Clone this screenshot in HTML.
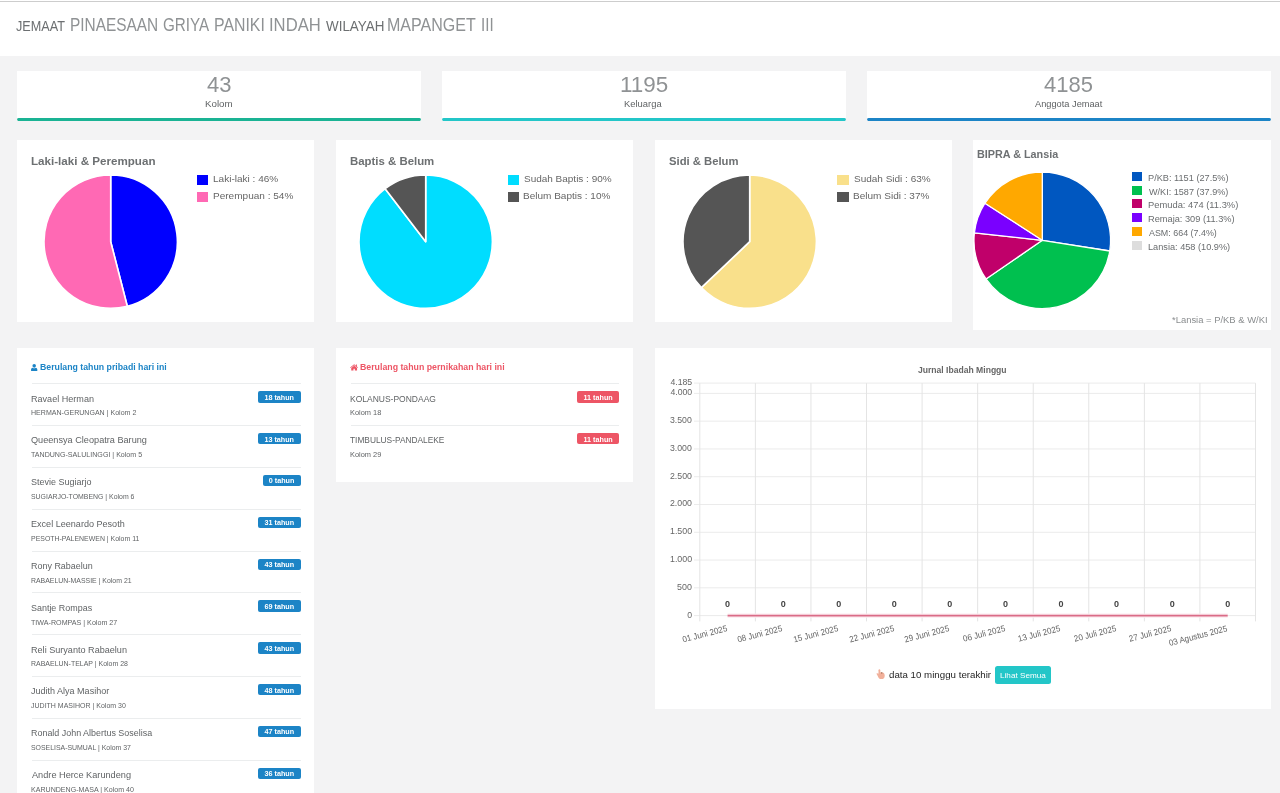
<!DOCTYPE html>
<html lang="id"><head><meta charset="utf-8"><title>Dashboard Jemaat</title>
<meta name="viewport" content="width=1280">
<style>
*{margin:0;padding:0;box-sizing:border-box}
html,body{width:1280px;height:793px;overflow:hidden;background:#f3f3f4}
body{font-family:"Liberation Sans",sans-serif;color:#606365;position:relative;filter:opacity(1)}
.abs,.t,.card,.stat,.badge,.btn,li{position:absolute}
.t{white-space:nowrap;line-height:1;transform-origin:0 0;font-weight:normal;font-style:normal;display:block}
.head{position:absolute;left:0;top:0;width:1280px;height:56px;background:#fff}
.head:before{content:"";position:absolute;left:0;top:1px;width:100%;height:1px;background:#cdcdcd}
.card,.stat{background:#fff;overflow:hidden}
.stat{border-radius:0 0 3px 3px;background:linear-gradient(#fff 0,#fff 47px,#f3f3f4 47px)}
.bar{position:absolute;left:0;right:0;top:46.8px;height:3.3px;border-radius:2px}
ul{list-style:none}
li{left:14.5px;width:269px;height:42px;background:linear-gradient(#ebedee,#ebedee) 0 0/100% 1px no-repeat}
.badge{top:8px;height:11.300px;border-radius:2px}
.btn{background:#23c6c8;border-radius:2.5px;display:block}
i{display:block}
</style></head>
<body>
<header class="head"><h2><small class="t" style="left:16.22px;top:19.00px;font-size:13.8px;line-height:15px;color:#6c6f71;transform:scaleX(0.9172);">JEMAAT</small><span class="t" style="left:70.31px;top:15.00px;font-size:18.2px;line-height:20px;color:#8f9294;transform:scaleX(0.8477);">PINAESAAN</span><span class="t" style="left:162.85px;top:15.00px;font-size:18.2px;line-height:20px;color:#8f9294;transform:scaleX(0.8357);">GRIYA</span><span class="t" style="left:214.18px;top:15.00px;font-size:18.2px;line-height:20px;color:#8f9294;transform:scaleX(0.8721);">PANIKI</span><span class="t" style="left:269.04px;top:15.00px;font-size:18.2px;line-height:20px;color:#8f9294;transform:scaleX(0.9145);">INDAH</span><small class="t" style="left:325.60px;top:19.00px;font-size:13.8px;line-height:15px;color:#6c6f71;transform:scaleX(0.9729);">WILAYAH</small><span class="t" style="left:387.47px;top:15.00px;font-size:18.2px;line-height:20px;color:#8f9294;transform:scaleX(0.8821);">MAPANGET</span><span class="t" style="left:480.87px;top:15.00px;font-size:18.2px;line-height:20px;color:#8f9294;transform:scaleX(0.8310);">III</span></h2></header><section class="stat" style="left:17px;top:71px;width:404px;height:51px"><b class="t" style="left:189.60px;top:1.00px;font-size:21.9px;line-height:25px;color:#8f9294;transform:scaleX(1.0052);">43</b><span class="t" style="left:188.01px;top:28.00px;font-size:8.7px;line-height:10px;transform:scaleX(1.1233);">Kolom</span><i class="bar" style="background:#1ab394"></i></section><section class="stat" style="left:442px;top:71px;width:404px;height:51px"><b class="t" style="left:177.76px;top:1.00px;font-size:21.9px;line-height:25px;color:#8f9294;transform:scaleX(1.0243);">1195</b><span class="t" style="left:182.44px;top:28.00px;font-size:8.7px;line-height:10px;transform:scaleX(1.0823);">Keluarga</span><i class="bar" style="background:#23c6c8"></i></section><section class="stat" style="left:867px;top:71px;width:404px;height:51px"><b class="t" style="left:177.30px;top:1.00px;font-size:21.9px;line-height:25px;color:#8f9294;transform:scaleX(1.0055);">4185</b><span class="t" style="left:167.80px;top:28.00px;font-size:8.7px;line-height:10px;transform:scaleX(1.0641);">Anggota Jemaat</span><i class="bar" style="background:#1c84c6"></i></section><section class="card" style="left:17px;top:140px;width:297px;height:182px"><h5 class="t" style="left:14.16px;top:15.00px;font-size:11px;line-height:12px;font-weight:bold;color:#6d7072;transform:scaleX(1.0551);">Laki-laki &amp; Perempuan</h5><svg class="abs" role="img" aria-label="Laki-laki 46%, Perempuan 54%" style="left:23.80px;top:32.30px" width="139.40" height="139.40" viewBox="40.80 172.30 139.40 139.40"><path d="M110.50 242.00L110.50 175.30A66.70 66.70 0 0 1 127.09 306.60Z" fill="#0000ff" stroke="#fff" stroke-width="1.6" stroke-linejoin="round"/><path d="M110.50 242.00L127.09 306.60A66.70 66.70 0 1 1 110.50 175.30Z" fill="#ff69b4" stroke="#fff" stroke-width="1.6" stroke-linejoin="round"/></svg><i class="abs" style="left:179.80px;top:35.10px;width:11.20px;height:9.60px;background:#0000ff;"></i><span class="t" style="left:195.87px;top:33.00px;font-size:9.6px;line-height:11px;color:#666;transform:scaleX(1.0457);">Laki-laki : 46%</span><i class="abs" style="left:179.80px;top:52.20px;width:11.20px;height:9.60px;background:#ff69b4;"></i><span class="t" style="left:195.87px;top:50.00px;font-size:9.6px;line-height:11px;color:#666;transform:scaleX(1.0460);">Perempuan : 54%</span></section><section class="card" style="left:336px;top:140px;width:297px;height:182px"><h5 class="t" style="left:13.87px;top:15.00px;font-size:11px;line-height:12px;font-weight:bold;color:#6d7072;transform:scaleX(1.0362);">Baptis &amp; Belum</h5><svg class="abs" role="img" aria-label="Sudah Baptis 90%, Belum Baptis 10%" style="left:19.70px;top:32.30px" width="139.40" height="139.40" viewBox="355.70 172.30 139.40 139.40"><path d="M425.40 242.00L425.40 175.30A66.70 66.70 0 1 1 384.85 189.04Z" fill="#00ddff" stroke="#fff" stroke-width="1.6" stroke-linejoin="round"/><path d="M425.40 242.00L384.85 189.04A66.70 66.70 0 0 1 425.40 175.30Z" fill="#555555" stroke="#fff" stroke-width="1.6" stroke-linejoin="round"/></svg><i class="abs" style="left:171.80px;top:35.10px;width:11.20px;height:9.60px;background:#00ddff;"></i><span class="t" style="left:187.78px;top:33.00px;font-size:9.6px;line-height:11px;color:#666;transform:scaleX(1.0396);">Sudah Baptis : 90%</span><i class="abs" style="left:171.80px;top:52.20px;width:11.20px;height:9.60px;background:#555555;"></i><span class="t" style="left:187.47px;top:50.00px;font-size:9.6px;line-height:11px;color:#666;transform:scaleX(1.0442);">Belum Baptis : 10%</span></section><section class="card" style="left:655px;top:140px;width:297px;height:182px"><h5 class="t" style="left:13.69px;top:15.00px;font-size:11px;line-height:12px;font-weight:bold;color:#6d7072;transform:scaleX(1.0245);">Sidi &amp; Belum</h5><svg class="abs" role="img" aria-label="Sudah Sidi 63%, Belum Sidi 37%" style="left:24.80px;top:32.30px" width="139.40" height="139.40" viewBox="679.80 172.30 139.40 139.40"><path d="M749.50 242.00L749.50 175.30A66.70 66.70 0 1 1 701.17 287.96Z" fill="#f9e08b" stroke="#fff" stroke-width="1.6" stroke-linejoin="round"/><path d="M749.50 242.00L701.17 287.96A66.70 66.70 0 0 1 749.50 175.30Z" fill="#555555" stroke="#fff" stroke-width="1.6" stroke-linejoin="round"/></svg><i class="abs" style="left:182.40px;top:35.10px;width:11.20px;height:9.60px;background:#f9e08b;"></i><span class="t" style="left:198.78px;top:33.00px;font-size:9.6px;line-height:11px;color:#666;transform:scaleX(1.0410);">Sudah Sidi : 63%</span><i class="abs" style="left:182.40px;top:52.20px;width:11.20px;height:9.60px;background:#555555;"></i><span class="t" style="left:198.47px;top:50.00px;font-size:9.6px;line-height:11px;color:#666;transform:scaleX(1.0463);">Belum Sidi : 37%</span></section><section class="card" style="left:973px;top:140px;width:298px;height:190px"><h5 class="t" style="left:3.81px;top:8.00px;font-size:11px;line-height:12px;font-weight:bold;color:#6d7072;transform:scaleX(0.9817);">BIPRA &amp; Lansia</h5><svg class="abs" role="img" aria-label="BIPRA" style="left:-1.80px;top:29.00px" width="142.60" height="142.60" viewBox="971.20 169.00 142.60 142.60"><path d="M1042.50 240.30L1042.50 172.00A68.30 68.30 0 0 1 1109.96 251.00Z" fill="#0057c0" stroke="#fff" stroke-width="1.3" stroke-linejoin="round"/><path d="M1042.50 240.30L1109.96 251.00A68.30 68.30 0 0 1 986.19 278.96Z" fill="#00c04f" stroke="#fff" stroke-width="1.3" stroke-linejoin="round"/><path d="M1042.50 240.30L986.19 278.96A68.30 68.30 0 0 1 974.61 232.80Z" fill="#c0006a" stroke="#fff" stroke-width="1.3" stroke-linejoin="round"/><path d="M1042.50 240.30L974.61 232.80A68.30 68.30 0 0 1 985.14 203.22Z" fill="#7a00ff" stroke="#fff" stroke-width="1.3" stroke-linejoin="round"/><path d="M1042.50 240.30L985.14 203.22A68.30 68.30 0 0 1 1042.50 172.00Z" fill="#ffa800" stroke="#fff" stroke-width="1.3" stroke-linejoin="round"/></svg><i class="abs" style="left:159.10px;top:31.70px;width:10.00px;height:9.10px;background:#0057c0;"></i><span class="t" style="left:175.07px;top:33.00px;font-size:8.9px;line-height:10px;color:#6a6d6f;transform:scaleX(1.0360);">P/KB: 1151 (27.5%)</span><i class="abs" style="left:159.10px;top:45.55px;width:10.00px;height:9.10px;background:#00c04f;"></i><span class="t" style="left:175.80px;top:47.00px;font-size:8.9px;line-height:10px;color:#6a6d6f;transform:scaleX(1.0246);">W/KI: 1587 (37.9%)</span><i class="abs" style="left:159.10px;top:59.40px;width:10.00px;height:9.10px;background:#c0006a;"></i><span class="t" style="left:175.06px;top:60.00px;font-size:8.9px;line-height:10px;color:#6a6d6f;transform:scaleX(1.0536);">Pemuda: 474 (11.3%)</span><i class="abs" style="left:159.10px;top:73.25px;width:10.00px;height:9.10px;background:#7a00ff;"></i><span class="t" style="left:175.07px;top:74.00px;font-size:8.9px;line-height:10px;color:#6a6d6f;transform:scaleX(1.0404);">Remaja: 309 (11.3%)</span><i class="abs" style="left:159.10px;top:87.10px;width:10.00px;height:9.10px;background:#ffa800;"></i><span class="t" style="left:175.80px;top:88.00px;font-size:8.9px;line-height:10px;color:#6a6d6f;transform:scaleX(1.0029);">ASM: 664 (7.4%)</span><i class="abs" style="left:159.10px;top:100.95px;width:10.00px;height:9.10px;background:#dddddd;"></i><span class="t" style="left:175.08px;top:102.00px;font-size:8.9px;line-height:10px;color:#6a6d6f;transform:scaleX(1.0345);">Lansia: 458 (10.9%)</span><small class="t" style="left:199.19px;top:175.00px;font-size:8.3px;line-height:10px;color:#8a8d8f;transform:scaleX(1.1357);">*Lansia = P/KB &amp; W/KI</small></section><section class="card" style="left:17px;top:348px;width:297px;height:445px"><svg class="abs" style="left:14.3px;top:15.800000000000011px" width="6.400" height="7.300" viewBox="0 0 14 16"><path fill="#1c84c6" d="M7 0.2a3.9 3.9 0 1 1 0 7.8a3.9 3.9 0 0 1 0-7.8zM3.6 8.2c.9.8 2.1 1.2 3.4 1.2s2.500-.4 3.400-1.200c2.400.3 3.600 2.400 3.600 5.300c0 1.500-1 2.500-2.300 2.500H2.300C1 16 0 15 0 13.500c0-2.900 1.200-5 3.600-5.300z"/></svg><h5 class="t" style="left:22.94px;top:14.00px;font-size:9.3px;line-height:10px;font-weight:bold;color:#1c84c6;transform:scaleX(0.9403);">Berulang tahun pribadi hari ini</h5><ul><li style="top:35.25px"><strong class="t" style="left:-0.68px;top:10.75px;font-size:9.3px;line-height:10px;transform:scaleX(0.9749);">Ravael Herman</strong><small class="t" style="left:-0.49px;top:24.75px;font-size:7.2px;line-height:9px;transform:scaleX(0.9819);">HERMAN-GERUNGAN | Kolom 2</small><span class="badge" style="left:226.50px;width:42.50px;background:#1c84c6"><span class="t" style="left:6.45px;top:1.75px;font-size:7.2px;line-height:9px;font-weight:bold;color:#fff;">18 tahun</span></span></li><li style="top:77.08px"><strong class="t" style="left:-0.39px;top:9.92px;font-size:9.3px;line-height:10px;transform:scaleX(0.9837);">Queensya Cleopatra Barung</strong><small class="t" style="left:-0.10px;top:24.92px;font-size:7.2px;line-height:9px;transform:scaleX(0.9853);">TANDUNG-SALULINGGI | Kolom 5</small><span class="badge" style="left:226.50px;width:42.50px;background:#1c84c6"><span class="t" style="left:6.45px;top:1.92px;font-size:7.2px;line-height:9px;font-weight:bold;color:#fff;">13 tahun</span></span></li><li style="top:118.91px"><strong class="t" style="left:-0.39px;top:10.09px;font-size:9.3px;line-height:10px;transform:scaleX(0.9671);">Stevie Sugiarjo</strong><small class="t" style="left:-0.29px;top:25.09px;font-size:7.2px;line-height:9px;transform:scaleX(0.9612);">SUGIARJO-TOMBENG | Kolom 6</small><span class="badge" style="left:231.00px;width:38.00px;background:#1c84c6"><span class="t" style="left:6.30px;top:1.09px;font-size:7.2px;line-height:9px;font-weight:bold;color:#fff;">0 tahun</span></span></li><li style="top:160.74px"><strong class="t" style="left:-0.68px;top:10.26px;font-size:9.3px;line-height:10px;transform:scaleX(0.9748);">Excel Leenardo Pesoth</strong><small class="t" style="left:-0.48px;top:25.26px;font-size:7.2px;line-height:9px;transform:scaleX(0.9653);">PESOTH-PALENEWEN | Kolom 11</small><span class="badge" style="left:226.50px;width:42.50px;background:#1c84c6"><span class="t" style="left:6.60px;top:1.26px;font-size:7.2px;line-height:9px;font-weight:bold;color:#fff;">31 tahun</span></span></li><li style="top:202.57px"><strong class="t" style="left:-0.67px;top:10.43px;font-size:9.3px;line-height:10px;transform:scaleX(0.9628);">Rony Rabaelun</strong><small class="t" style="left:-0.48px;top:25.43px;font-size:7.2px;line-height:9px;transform:scaleX(0.9624);">RABAELUN-MASSIE | Kolom 21</small><span class="badge" style="left:226.50px;width:42.50px;background:#1c84c6"><span class="t" style="left:6.60px;top:1.43px;font-size:7.2px;line-height:9px;font-weight:bold;color:#fff;">43 tahun</span></span></li><li style="top:244.40px"><strong class="t" style="left:-0.38px;top:10.60px;font-size:9.3px;line-height:10px;transform:scaleX(0.9613);">Santje Rompas</strong><small class="t" style="left:-0.10px;top:25.60px;font-size:7.2px;line-height:9px;transform:scaleX(0.9921);">TIWA-ROMPAS | Kolom 27</small><span class="badge" style="left:226.50px;width:42.50px;background:#1c84c6"><span class="t" style="left:6.55px;top:1.60px;font-size:7.2px;line-height:9px;font-weight:bold;color:#fff;">69 tahun</span></span></li><li style="top:286.23px"><strong class="t" style="left:-0.68px;top:10.77px;font-size:9.3px;line-height:10px;transform:scaleX(0.9773);">Reli Suryanto Rabaelun</strong><small class="t" style="left:-0.48px;top:24.77px;font-size:7.2px;line-height:9px;transform:scaleX(0.9698);">RABAELUN-TELAP | Kolom 28</small><span class="badge" style="left:226.50px;width:42.50px;background:#1c84c6"><span class="t" style="left:6.60px;top:1.77px;font-size:7.2px;line-height:9px;font-weight:bold;color:#fff;">43 tahun</span></span></li><li style="top:328.06px"><strong class="t" style="left:-0.10px;top:9.94px;font-size:9.3px;line-height:10px;transform:scaleX(0.9697);">Judith Alya Masihor</strong><small class="t" style="left:-0.10px;top:24.94px;font-size:7.2px;line-height:9px;transform:scaleX(0.9750);">JUDITH MASIHOR | Kolom 30</small><span class="badge" style="left:226.50px;width:42.50px;background:#1c84c6"><span class="t" style="left:6.60px;top:1.94px;font-size:7.2px;line-height:9px;font-weight:bold;color:#fff;">48 tahun</span></span></li><li style="top:369.89px"><strong class="t" style="left:-0.67px;top:10.11px;font-size:9.3px;line-height:10px;transform:scaleX(0.9604);">Ronald John Albertus Soselisa</strong><small class="t" style="left:-0.29px;top:25.11px;font-size:7.2px;line-height:9px;transform:scaleX(0.9619);">SOSELISA-SUMUAL | Kolom 37</small><span class="badge" style="left:226.50px;width:42.50px;background:#1c84c6"><span class="t" style="left:6.60px;top:1.11px;font-size:7.2px;line-height:9px;font-weight:bold;color:#fff;">47 tahun</span></span></li><li style="top:411.72px"><strong class="t" style="left:0.00px;top:10.28px;font-size:9.3px;line-height:10px;transform:scaleX(0.9877);">Andre Herce Karundeng</strong><small class="t" style="left:-0.49px;top:25.28px;font-size:7.2px;line-height:9px;transform:scaleX(0.9843);">KARUNDENG-MASA | Kolom 40</small><span class="badge" style="left:226.50px;width:42.50px;background:#1c84c6"><span class="t" style="left:6.60px;top:1.28px;font-size:7.2px;line-height:9px;font-weight:bold;color:#fff;">36 tahun</span></span></li></ul></section><section class="card" style="left:336px;top:348px;width:297px;height:134px"><svg class="abs" style="left:13.800000000000011px;top:16.100000000000023px" width="8.300" height="6.800" viewBox="0 0 16 13"><path fill="#ed5565" d="M8 0.300L0.200 6.800l.9 1.100L8 2.200l6.900 5.700l.9-1.100L13.300 4.700V1h-1.900v2.100zM8 3.300L2.400 7.900V12.700h4.300V9h2.600v3.700h4.300V7.900z"/></svg><h5 class="t" style="left:24.33px;top:14.00px;font-size:9.3px;line-height:10px;font-weight:bold;color:#ed5565;transform:scaleX(0.9429);">Berulang tahun pernikahan hari ini</h5><ul><li style="top:35.25px;width:268.5px"><strong class="t" style="left:-0.64px;top:10.75px;font-size:9.3px;line-height:10px;transform:scaleX(0.9140);">KOLANUS-PONDAAG</strong><small class="t" style="left:-0.51px;top:24.75px;font-size:7.2px;line-height:9px;transform:scaleX(1.0300);">Kolom 18</small><span class="badge" style="left:226.50px;width:42.25px;background:#ed5565"><span class="t" style="left:6.52px;top:1.75px;font-size:7.2px;line-height:9px;font-weight:bold;color:#fff;">11 tahun</span></span></li><li style="top:77.08px;width:268.5px"><strong class="t" style="left:-0.18px;top:9.92px;font-size:9.3px;line-height:10px;transform:scaleX(0.8974);">TIMBULUS-PANDALEKE</strong><small class="t" style="left:-0.51px;top:24.92px;font-size:7.2px;line-height:9px;transform:scaleX(1.0300);">Kolom 29</small><span class="badge" style="left:226.50px;width:42.25px;background:#ed5565"><span class="t" style="left:6.52px;top:1.92px;font-size:7.2px;line-height:9px;font-weight:bold;color:#fff;">11 tahun</span></span></li></ul></section><section class="card" style="left:655px;top:348px;width:616px;height:361px"><svg class="abs" role="img" aria-label="Jurnal Ibadah Minggu" style="left:0;top:0" width="616" height="361" viewBox="655 348 616 361"><g stroke="#ebebeb" stroke-width="1" fill="none"><path d="M694 615.60H1255.50"/><path d="M694 587.83H1255.50"/><path d="M694 560.05H1255.50"/><path d="M694 532.27H1255.50"/><path d="M694 504.50H1255.50"/><path d="M694 476.73H1255.50"/><path d="M694 448.95H1255.50"/><path d="M694 421.17H1255.50"/><path d="M694 393.40H1255.50"/><path d="M694 383.12H1255.50"/><path stroke="#e4e4e4" d="M699.80 383.12V621.4"/><path stroke="#e4e4e4" d="M755.37 383.12V621.4"/><path stroke="#e4e4e4" d="M810.94 383.12V621.4"/><path stroke="#e4e4e4" d="M866.51 383.12V621.4"/><path stroke="#e4e4e4" d="M922.08 383.12V621.4"/><path stroke="#e4e4e4" d="M977.65 383.12V621.4"/><path stroke="#e4e4e4" d="M1033.22 383.12V621.4"/><path stroke="#e4e4e4" d="M1088.79 383.12V621.4"/><path stroke="#e4e4e4" d="M1144.36 383.12V621.4"/><path stroke="#e4e4e4" d="M1199.93 383.12V621.4"/><path stroke="#e4e4e4" d="M1255.50 383.12V621.4"/></g><path d="M727.58 615.70H1227.71" stroke="#fdeaef" stroke-width="4.2" fill="none"/><path d="M727.58 615.70H1227.71" stroke="#da6c87" stroke-width="1.7" fill="none"/></svg><h5 class="t" style="left:263.00px;top:17.00px;font-size:8.6px;line-height:10px;font-weight:bold;color:#666;transform:scaleX(0.9976);">Jurnal Ibadah Minggu</h5><span class="t" style="left:15.40px;top:29.00px;font-size:8.7px;line-height:10px;color:#666;">4.185</span><span class="t" style="left:15.40px;top:39.00px;font-size:8.7px;line-height:10px;color:#666;">4.000</span><span class="t" style="left:15.30px;top:67.00px;font-size:8.7px;line-height:10px;color:#666;transform:scaleX(1.0032);">3.500</span><span class="t" style="left:15.30px;top:95.00px;font-size:8.7px;line-height:10px;color:#666;transform:scaleX(1.0032);">3.000</span><span class="t" style="left:15.20px;top:123.00px;font-size:8.7px;line-height:10px;color:#666;transform:scaleX(1.0080);">2.500</span><span class="t" style="left:15.20px;top:150.00px;font-size:8.7px;line-height:10px;color:#666;transform:scaleX(1.0080);">2.000</span><span class="t" style="left:14.99px;top:178.00px;font-size:8.7px;line-height:10px;color:#666;transform:scaleX(1.0176);">1.500</span><span class="t" style="left:14.99px;top:206.00px;font-size:8.7px;line-height:10px;color:#666;transform:scaleX(1.0176);">1.000</span><span class="t" style="left:22.29px;top:234.00px;font-size:8.7px;line-height:10px;color:#666;transform:scaleX(1.0233);">500</span><span class="t" style="left:32.30px;top:262.00px;font-size:8.7px;line-height:10px;color:#666;">0</span><span class="t" style="left:70.08px;top:251.00px;font-size:9.0px;line-height:10px;font-weight:bold;color:#444;">0</span><span class="t" style="left:22.90px;top:275.00px;font-size:8.7px;line-height:10px;color:#666;transform-origin:49.49px 8.00px;transform:rotate(-14.5deg) scaleX(0.9250);">01 Juni 2025</span><span class="t" style="left:125.65px;top:251.00px;font-size:9.0px;line-height:10px;font-weight:bold;color:#444;">0</span><span class="t" style="left:78.47px;top:275.00px;font-size:8.7px;line-height:10px;color:#666;transform-origin:49.49px 8.00px;transform:rotate(-14.5deg) scaleX(0.9250);">08 Juni 2025</span><span class="t" style="left:181.22px;top:251.00px;font-size:9.0px;line-height:10px;font-weight:bold;color:#444;">0</span><span class="t" style="left:134.04px;top:275.00px;font-size:8.7px;line-height:10px;color:#666;transform-origin:49.49px 8.00px;transform:rotate(-14.5deg) scaleX(0.9250);">15 Juni 2025</span><span class="t" style="left:236.79px;top:251.00px;font-size:9.0px;line-height:10px;font-weight:bold;color:#444;">0</span><span class="t" style="left:189.61px;top:275.00px;font-size:8.7px;line-height:10px;color:#666;transform-origin:49.49px 8.00px;transform:rotate(-14.5deg) scaleX(0.9250);">22 Juni 2025</span><span class="t" style="left:292.37px;top:251.00px;font-size:9.0px;line-height:10px;font-weight:bold;color:#444;">0</span><span class="t" style="left:245.18px;top:275.00px;font-size:8.7px;line-height:10px;color:#666;transform-origin:49.49px 8.00px;transform:rotate(-14.5deg) scaleX(0.9250);">29 Juni 2025</span><span class="t" style="left:347.93px;top:251.00px;font-size:9.0px;line-height:10px;font-weight:bold;color:#444;">0</span><span class="t" style="left:303.65px;top:275.00px;font-size:8.7px;line-height:10px;color:#666;transform-origin:46.58px 8.00px;transform:rotate(-14.5deg) scaleX(0.9250);">06 Juli 2025</span><span class="t" style="left:403.50px;top:251.00px;font-size:9.0px;line-height:10px;font-weight:bold;color:#444;">0</span><span class="t" style="left:359.22px;top:275.00px;font-size:8.7px;line-height:10px;color:#666;transform-origin:46.58px 8.00px;transform:rotate(-14.5deg) scaleX(0.9250);">13 Juli 2025</span><span class="t" style="left:459.07px;top:251.00px;font-size:9.0px;line-height:10px;font-weight:bold;color:#444;">0</span><span class="t" style="left:414.79px;top:275.00px;font-size:8.7px;line-height:10px;color:#666;transform-origin:46.58px 8.00px;transform:rotate(-14.5deg) scaleX(0.9250);">20 Juli 2025</span><span class="t" style="left:514.64px;top:251.00px;font-size:9.0px;line-height:10px;font-weight:bold;color:#444;">0</span><span class="t" style="left:470.36px;top:275.00px;font-size:8.7px;line-height:10px;color:#666;transform-origin:46.58px 8.00px;transform:rotate(-14.5deg) scaleX(0.9250);">27 Juli 2025</span><span class="t" style="left:570.21px;top:251.00px;font-size:9.0px;line-height:10px;font-weight:bold;color:#444;">0</span><span class="t" style="left:507.55px;top:275.00px;font-size:8.7px;line-height:10px;color:#666;transform-origin:64.96px 8.00px;transform:rotate(-14.5deg) scaleX(0.9250);">03 Agustus 2025</span><svg class="abs" style="left:220.60000000000002px;top:320.70000000000005px" width="10" height="11" viewBox="0 0 10 11"><g fill="#f1b09a"><rect x="2.500" y="0.300" width="1.800" height="6.500" rx="0.900"/><ellipse cx="5.400" cy="6.700" rx="3.300" ry="3.400"/><path d="M0.500 4.800c.5-.7 1.400-.5 2 .3l1.200 1.800l-1.300 1.300z"/></g><circle cx="5.800" cy="3.900" r="0.550" fill="#7a4a2c"/></svg><span class="t" style="left:234.39px;top:322.00px;font-size:9.3px;line-height:10px;color:#1f1f1f;transform:scaleX(1.0451);">data 10 minggu terakhir</span><a class="btn" style="left:340px;top:318px;width:56px;height:18px"><span class="t" style="left:5.00px;top:5.00px;font-size:8.1px;line-height:9px;color:#fff;transform:scaleX(1.0072);">Lihat Semua</span></a></section>
</body></html>
